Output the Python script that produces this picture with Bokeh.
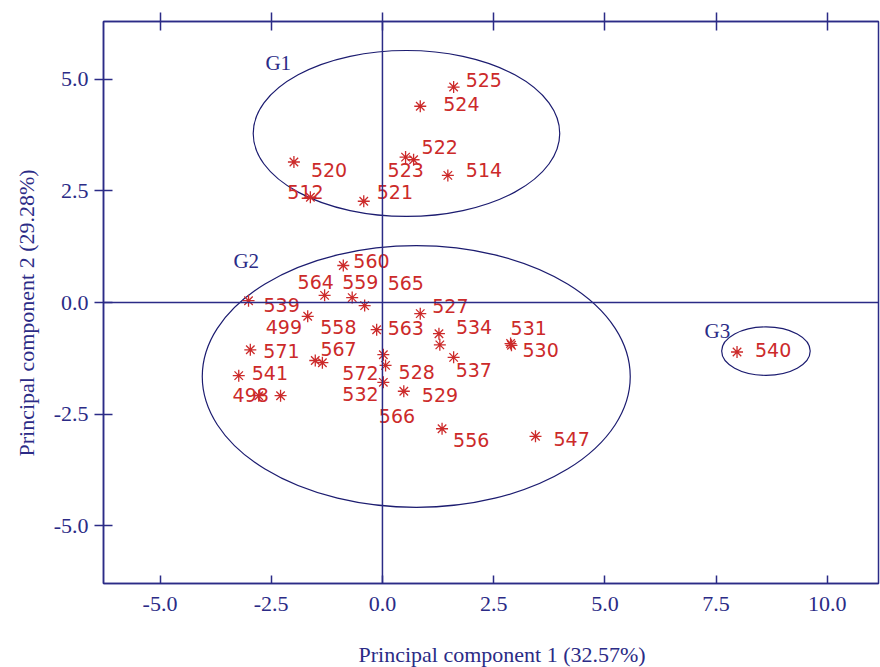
from bokeh.plotting import figure
from bokeh.models import (ColumnDataSource, LinearAxis, Span, FixedTicker, Range1d,
                          PrintfTickFormatter, Title)
from bokeh.core.properties import value
from bokeh.embed import file_html
from bokeh.resources import INLINE

# ---- data ----
names = ["525", "524", "522", "523", "520", "514", "512", "521",
         "560", "564", "559", "565", "539", "499", "558", "563", "527", "534",
         "566", "531", "530", "571", "567", "541", "498", "", "572", "528",
         "532", "529", "537", "556", "547",
         "540"]
pc1 = [1.60, 0.85, 0.70, 0.52, -1.99, 1.47, -1.62, -0.42,
       -0.88, -1.30, -0.68, -0.40, -3.01, -1.68, -1.51, -0.13, 0.85, 1.27,
       1.29, 2.88, 2.90, -2.97, -1.35, -3.23, -2.29, -2.78, 0.02, 0.07,
       0.02, 0.48, 1.60, 1.34, 3.44,
       7.97]
pc2 = [4.83, 4.40, 3.20, 3.26, 3.15, 2.85, 2.36, 2.27,
       0.83, 0.16, 0.11, -0.07, 0.04, -0.31, -1.30, -0.61, -0.25, -0.70,
       -0.95, -0.92, -0.96, -1.06, -1.35, -1.64, -2.09, -2.09, -1.17, -1.41,
       -1.79, -1.99, -1.23, -2.83, -3.00,
       -1.11]

# label placement (screen pixels, relative to each point)
label_dx = [12, 23, 8, -18, 17, 18, -23, 13,
            10, -27, -10, 23, 15, -42, 5, 11, 12, 17,
            -61, 0, 11, 13, -2, 13, -48, 0, -41, 13,
            -41, 18, 2, 11, 18,
            18]
label_dy = [-7, -2, -13, 13, 8, -5, -5, -9,
            -4, -13, -16, -23, 4, 11, -33, -2, -8, -7,
            71, -16, 5, 1, -14, -3, -1, 0, 18, 7,
            12, 4, 13, 11, 3,
            -2]

groups = ["G1", "G2", "G3"]
group_cx = [0.54, 0.76, 8.62]
group_cy = [3.79, -1.66, -1.09]
group_w = [6.89, 9.62, 1.99]
group_h = [3.72, 5.87, 1.085]
group_label_x = [-2.63, -3.35, 7.24]
group_label_y = [5.36, 0.92, -0.63]

x_ticks = [-5.0, -2.5, 0.0, 2.5, 5.0, 7.5, 10.0]
y_ticks = [-5.0, -2.5, 0.0, 2.5, 5.0]
x_title = "Principal component 1 (32.57%)"
y_title = "Principal component 2 (29.28%)"

NAVY = "#2b2b86"
RED = "#cc2a2a"
SERIF = "Liberation Serif"

p = figure(frame_width=775, frame_height=562,
           x_range=Range1d(-6.27, 11.15), y_range=Range1d(-6.30, 6.30),
           output_backend="svg", toolbar_location=None,
           min_border_left=103, min_border_top=21, min_border_right=2,
           min_border_bottom=84, background_fill_color="white",
           border_fill_color="white")
p.grid.visible = False
p.outline_line_color = NAVY
p.outline_line_width = 1.5

# axes
for ax in (p.xaxis[0], p.yaxis[0]):
    ax.axis_line_color = NAVY
    ax.axis_line_width = 1.5
    ax.major_tick_line_color = NAVY
    ax.major_tick_line_width = 1.5
    ax.minor_tick_line_color = None
    ax.formatter = PrintfTickFormatter(format="%.1f")
    ax.major_label_text_font = SERIF
    ax.major_label_text_font_size = "22px"
    ax.major_label_text_color = NAVY

p.xaxis.ticker = FixedTicker(ticks=x_ticks)
p.xaxis.major_tick_in = 8
p.xaxis.major_tick_out = 0
p.xaxis.major_label_standoff = 13

p.yaxis.ticker = FixedTicker(ticks=y_ticks)
p.yaxis.major_tick_in = 9
p.yaxis.major_tick_out = 9
p.yaxis.major_label_standoff = 6

top = LinearAxis(ticker=FixedTicker(ticks=x_ticks), major_label_text_font_size="0px",
                 major_label_standoff=0, major_tick_in=9, major_tick_out=9,
                 axis_line_color=NAVY, axis_line_width=1.5,
                 major_tick_line_color=NAVY, major_tick_line_width=1.5,
                 minor_tick_line_color=None)
p.add_layout(top, "above")

# axis titles as side titles (so they can be shifted along the axis)
p.add_layout(Title(text=x_title, align="left", offset=255, standoff=56,
                   vertical_align="top", text_font=SERIF, text_font_size="22px",
                   text_font_style="normal", text_color=NAVY), "below")
p.add_layout(Title(text=y_title, align="left", offset=127, standoff=20,
                   vertical_align="top", text_font=SERIF, text_font_size="22px",
                   text_font_style="normal", text_color=NAVY), "left")

# zero lines
p.add_layout(Span(location=0, dimension="height", line_color=NAVY, line_width=1.5))
p.add_layout(Span(location=0, dimension="width", line_color=NAVY, line_width=1.5))

# group ellipses
gsrc = ColumnDataSource(dict(x=group_cx, y=group_cy, w=group_w, h=group_h,
                             lx=group_label_x, ly=group_label_y, t=groups))
p.ellipse(x="x", y="y", width="w", height="h", source=gsrc, fill_color=None,
          line_color="#1c1c70", line_width=1.2)
p.text(x="lx", y="ly", text="t", source=gsrc, text_font=value(SERIF),
       text_font_size="21px", text_color=NAVY, text_baseline="middle",
       text_align="left")

# points and labels
src = ColumnDataSource(dict(x=pc1, y=pc2, name=names, dx=label_dx, dy=label_dy))
p.scatter(x="x", y="y", source=src, marker="asterisk", size=12,
          line_color=RED, line_width=1.3)
p.text(x="x", y="y", text="name", source=src, x_offset="dx", y_offset="dy",
       text_font=value("DejaVu Sans"), text_font_size="19px", text_color=RED,
       text_baseline="middle", text_align="left")

open("out.html", "w").write(file_html(p, INLINE))
